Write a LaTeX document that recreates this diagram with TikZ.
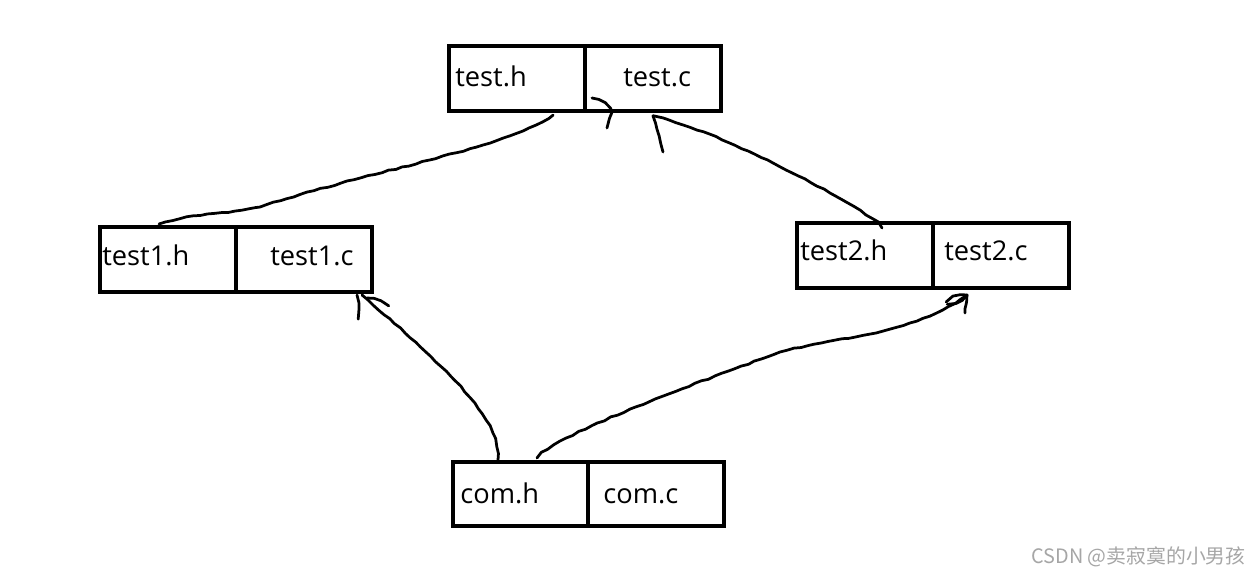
\documentclass[tikz,border=0pt]{standalone}
\usepackage{fontspec}
\setmainfont{Open Sans}
\newfontfamily\cjk{Noto Sans CJK SC}
\usetikzlibrary{positioning,decorations.pathmorphing}

\begin{document}
\begin{tikzpicture}[x=0.02cm,y=-0.02cm,
  half/.style={draw,line width=0.08cm,minimum width=2.72cm,minimum height=1.3cm,outer sep=0pt,inner sep=0pt},
  lbl/.style={anchor=base west,inner sep=0pt,font=\fontsize{15.5}{18}\selectfont},
  wire/.style={line width=0.055cm,line cap=round,line join=round,
    decorate,decoration={random steps,segment length=4pt,amplitude=0.35pt}}]
\pgfmathsetseed{7}
\useasboundingbox (0,0) rectangle (1259,577);

\node[half] at (517,78.5) (th) {};
\node[half,right=0pt of th] (tc) {};
\node[lbl] at (455,86.5) (thtxt) {test.h};
\node[lbl] at (623,86.5) (tctxt) {test.c};

\node[half] at (168,259.5) (t1h) {};
\node[half,right=0pt of t1h] (t1c) {};
\node[lbl] at (102,265.5) (t1htxt) {test1.h};
\node[lbl] at (270,265.5) (t1ctxt) {test1.c};

\node[half] at (865,255.5) (t2h) {};
\node[half,right=0pt of t2h] (t2c) {};
\node[lbl] at (800,260.5) (t2htxt) {test2.h};
\node[lbl] at (944,260.5) (t2ctxt) {test2.c};

\node[half] at (520.5,494) (ch) {};
\node[half,right=0pt of ch] (cc) {};
\node[lbl] at (460,503.5) (chtxt) {com.h};
\node[lbl] at (603,503.5) (cctxt) {com.c};

\node[anchor=east,inner sep=0pt,text=black!35,font=\cjk\fontsize{11.3}{13}\selectfont] at (1246,557) (mark) {CSDN @卖寂寞的小男孩};

% ends of the hand drawn lines
\coordinate (s1) at (159,224);
\coordinate (m1) at (260,207);
\coordinate (e1) at (553,115);
\coordinate (tipA) at (612,112);
\coordinate (s2) at (882,228);
\coordinate (tipB) at (653,116);
\coordinate (s3) at (498,460);
\coordinate (tipC) at (362,295);
\coordinate (s4) at (537,458);
\coordinate (m4) at (780,352);
\coordinate (tipD) at (967,295);

\draw[wire] (s1) .. controls (200,212) and (230,214) .. (m1)
  .. controls (380,168) and (500,150) .. (e1);
\draw[wire] (tipA) +(-20,-14) to[bend left=20] (tipA) -- +(-5,16);

\draw[wire] (s2) .. controls (870,210) and (720,130) .. (tipB);
\draw[wire] (tipB) -- +(10,36);

\draw[wire] (s3) .. controls (500,420) and (455,375) .. (tipC);
\draw[wire] (tipC) +(-5,0) to[bend left=15] +(-5,24);
\draw[wire] (tipC) +(5,3) to[bend left=20] +(26,12);

\draw[wire] (s4) .. controls (560,432) and (700,382) .. (m4)
  .. controls (830,338) and (915,335) .. (tipD);
\draw[wire] (tipD) to[bend right=25] +(-20,8);
\draw[wire] (tipD) to[bend left=25] +(-20,8);
\draw[wire] (tipD) -- +(-2,18);
\end{tikzpicture}
\end{document}
